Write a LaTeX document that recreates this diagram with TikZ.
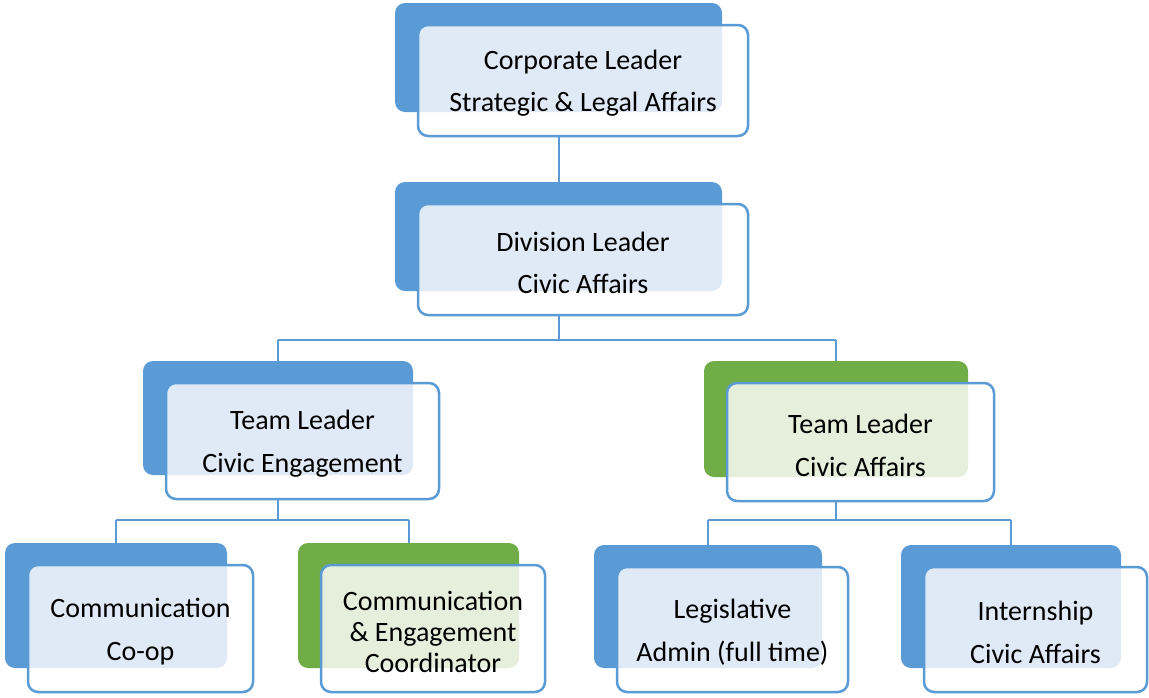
\documentclass[tikz,border=0pt]{standalone}
\usepackage{fontspec}
\setmainfont{Carlito}
\definecolor{cblue}{HTML}{5B9BD5}
\definecolor{cgreen}{HTML}{70AD47}
\definecolor{tblue}{HTML}{DFEAF6}
\definecolor{tgreen}{HTML}{E5EFDC}
\tikzset{
  backbox/.style={rounded corners=10pt, inner sep=0pt, outer sep=0pt},
  frontbox/.style={rounded corners=10pt, inner sep=0pt, outer sep=0pt, fill=white},
  frontline/.style={draw=cblue, line width=2.5pt, rounded corners=10pt},
  label/.style={align=center, inner sep=0pt, font=\fontsize{28}{42}\selectfont},
  conn/.style={draw=cblue, line width=2pt},
}
% #1 name, #2 back colour, #3 tint, #4 x1, #5 y1, #6 x2, #7 y2, #8 text, #9 line skip
\newcommand\orgbox[9]{%
  \node[backbox, fill=#2, minimum width={(#6-#4)*1pt}, minimum height={(#7-#5)*1pt}]
    (#1b) at ({(#4+#6)/2},{(#5+#7)/2}) {};
  \node[frontbox, minimum width={(#6-#4+3)*1pt}, minimum height={(#7-#5+2)*1pt}]
    (#1) at ({(#4+#6)/2+24.5},{(#5+#7)/2+23}) {};
  \begin{scope}
    \clip[rounded corners=10pt] (#1.south west) rectangle (#1.north east);
    \fill[#3, rounded corners=10pt] (#1b.south west) rectangle (#1b.north east);
  \end{scope}
  \draw[frontline] (#1.south west) rectangle (#1.north east);
  \node[label, font=\fontsize{28}{#9}\selectfont] (#1t) at ([yshift=-3pt]#1.center) {#8};
}
\begin{document}
\begin{tikzpicture}[x=1pt, y=-1pt]
\useasboundingbox (0,0) rectangle (1149,697);
\orgbox{top}{cblue}{tblue}{395}{3}{722}{112}{Corporate Leader\\Strategic \& Legal Affairs}{42}
\orgbox{div}{cblue}{tblue}{395}{182}{722}{291}{Division Leader\\Civic Affairs}{42}
\orgbox{tlc}{cblue}{tblue}{143}{361}{413}{475}{Team Leader\\Civic Engagement}{43}
\orgbox{tla}{cgreen}{tgreen}{704}{361}{968}{477}{Team Leader\\Civic Affairs}{43}
\orgbox{coop}{cblue}{tblue}{5}{543}{227}{668}{Communication\\Co-op}{43}
\orgbox{coord}{cgreen}{tgreen}{298}{543}{519}{668}{Communication\\\& Engagement\\Coordinator}{31}
\orgbox{leg}{cblue}{tblue}{594}{545}{822}{668}{Legislative\\Admin (full time)}{43}
\orgbox{intern}{cblue}{tblue}{901}{545}{1121}{668}{Internship\\Civic Affairs}{43}
% connectors
\coordinate (bus1) at (0,340);
\coordinate (bus2) at (0,520);
\draw[conn] (topb.center |- top.south) -- (divb.north);
\draw[conn] (divb.center |- div.south) -- (divb.center |- bus1);
\draw[conn] (tlcb.north |- bus1) -- (tlab.north |- bus1);
\draw[conn] (tlcb.north |- bus1) -- (tlcb.north);
\draw[conn] (tlab.north |- bus1) -- (tlab.north);
\draw[conn] (tlcb.center |- tlc.south) -- (tlcb.center |- bus2);
\draw[conn] (coopb.north |- bus2) -- (coordb.north |- bus2);
\draw[conn] (coopb.north |- bus2) -- (coopb.north);
\draw[conn] (coordb.north |- bus2) -- (coordb.north);
\draw[conn] (tlab.center |- tla.south) -- (tlab.center |- bus2);
\draw[conn] (legb.north |- bus2) -- (internb.north |- bus2);
\draw[conn] (legb.north |- bus2) -- (legb.north);
\draw[conn] (internb.north |- bus2) -- (internb.north);
\end{tikzpicture}
\end{document}
